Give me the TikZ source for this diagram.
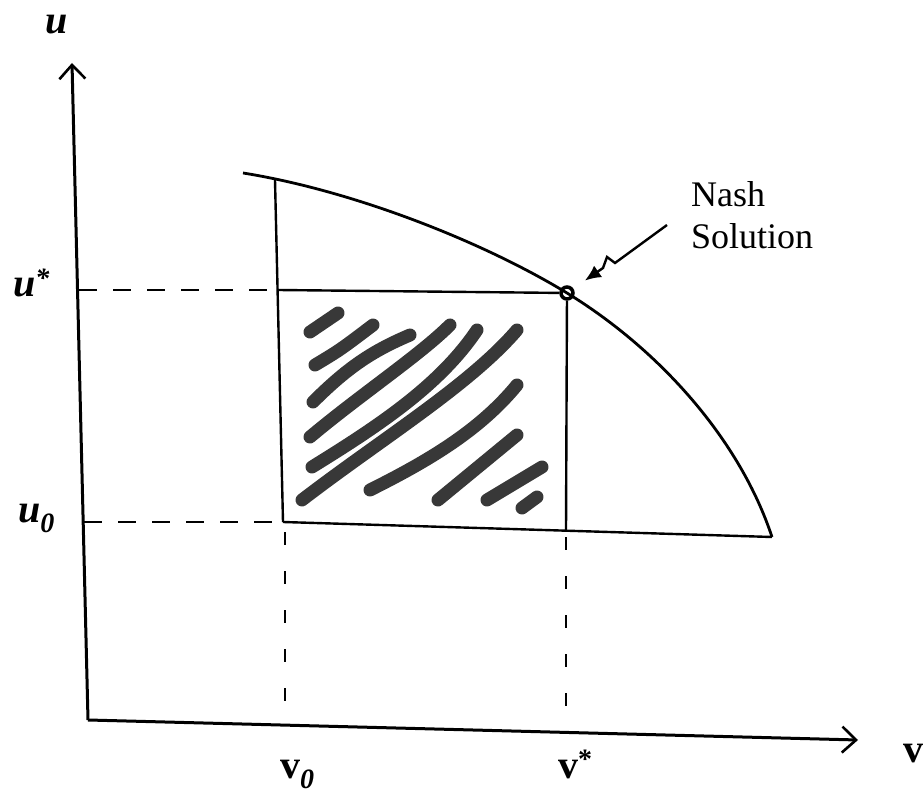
\documentclass[tikz,border=0pt]{standalone}
\usepackage{fontspec}
\setmainfont{Liberation Serif}
\usetikzlibrary{arrows.meta}

\begin{document}
\begin{tikzpicture}[x=1pt, y=-1pt,
    axis/.style={line width=3pt, -{Straight Barb[length=14pt, width=26pt, line width=2.6pt]}},
    frontier/.style={line width=2.8pt},
    box/.style={line width=2.4pt},
    guide/.style={line width=2.2pt, dash pattern=on 18pt off 16pt},
    vguide/.style={line width=2.2pt, dash pattern=on 13pt off 26pt},
    hatch/.style={line width=13pt, line cap=round, line join=round, draw=black!78},
    lbl/.style={font=\fontsize{40}{40}\selectfont\bfseries, inner sep=0pt, anchor=base west},
    nashpt/.style={circle, draw, line width=3.5pt, minimum size=12pt, inner sep=0pt}]
  \useasboundingbox (0,0) rectangle (924,799);

  % Ejes
  \coordinate (O) at (88,720);
  \coordinate (utop) at (72,63);
  \coordinate (vend) at (858,740);
  \draw[axis] (O) -- (utop);
  \draw[axis] (O) -- (vend);

  % Puntos del rectangulo
  \node[nashpt] (N) at (567,293) {};
  \coordinate (A) at (283,522);      % (v0,u0)
  \coordinate (B) at (278,290);      % (v0,u*)
  \coordinate (C) at (566,531);      % (v*,u0)
  \coordinate (L) at (275,180);
  \coordinate (S) at (243,173);
  \coordinate (E) at (772,537);

  % Zona sombreada
  \draw[hatch] (310,332) -- (338,313);
  \draw[hatch] (315,365) .. controls (340,350) .. (373,325);
  \draw[hatch] (313,402) .. controls (350,365) and (375,350) .. (410,335);
  \draw[hatch] (310,437) .. controls (360,395) and (420,355) .. (450,325);
  \draw[hatch] (312,467) .. controls (380,425) and (440,385) .. (477,330);
  \draw[hatch] (302,500) .. controls (380,440) and (470,385) .. (517,330);
  \draw[hatch] (370,490) .. controls (430,460) and (480,430) .. (517,385);
  \draw[hatch] (438,500) -- (517,435);
  \draw[hatch] (487,500) -- (542,467);
  \draw[hatch] (522,508) -- (537,497);

  % Frontera
  \draw[frontier] (S) .. controls (350,190) and (480,240) .. (N.center)
    .. controls (660,350) and (740,440) .. (E);

  % Rectangulo
  \draw[box] (L) -- (A);
  \draw[box] (B) -- (N);
  \draw[box] (N) -- (C);
  \draw[box] (A) -- (E);

  % Lineas guia
  \coordinate (ustarax) at (79,290);
  \coordinate (uzeroax) at (84,522);
  \coordinate (vzeroax) at (285,718);
  \coordinate (vstarax) at (566,728);
  \draw[guide] (ustarax) -- (B);
  \draw[guide] (uzeroax) -- (A);
  \draw[vguide] (A) ++(2,10) -- (vzeroax);
  \draw[vguide] (C) ++(0,6) -- (vstarax);

  % Etiquetas
  \node[lbl] (ulab) at (45,34) {\itshape u};
  \node[lbl] (vlab) at (903,762) {v};
  \node[lbl] (ustar) at (13,297) {\itshape u\textsuperscript{*}};
  \node[lbl] (uzero) at (18,522) {\itshape u\textsubscript{0}};
  \node[lbl] (vzero) at (280,778) {v\textsubscript{\itshape 0}};
  \node[lbl] (vstar) at (558,778) {v\textsuperscript{*}};
  \node[font=\fontsize{36}{42}\selectfont, align=left, inner sep=0pt, anchor=north west]
    (nashlab) at (691,181) {Nash\\Solution};

  % Flecha
  \coordinate (zstart) at (667,225);
  \draw[line width=2.4pt, -{Latex[length=16pt, width=14pt]}, shorten >=14pt]
    (zstart) -- (615,263) -- (607,257) -- (603,268) -- (N);
\end{tikzpicture}
\end{document}
